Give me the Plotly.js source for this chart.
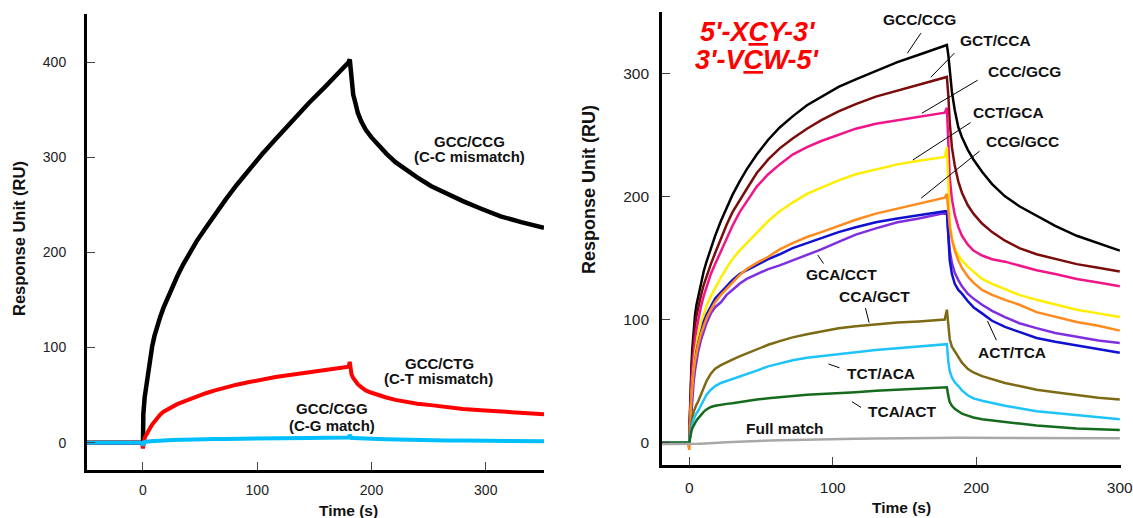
<!DOCTYPE html>
<html>
<head>
<meta charset="utf-8">
<script src="https://cdn.plot.ly/plotly-3.0.1.min.js"></script>
<style>html,body{margin:0;padding:0;background:#fff;}#chart{width:1133px;height:518px;}</style>
</head>
<body>
<div id="chart"></div>
<script>
// ---------- Left panel data (time in s, response in RU) ----------
const timeLeft = [-50, -1, 0, 0.3, 0.6, 1, 1.5, 2, 3, 4, 5, 6.5, 8, 10, 12.5, 15, 18, 22, 26, 30, 35, 40, 47, 55, 63, 72, 82, 92, 104, 116, 130, 145, 160, 170, 178, 180, 181, 181.5, 182.5, 184, 186, 188, 191, 195, 200, 206, 213, 221, 230, 240, 252, 265, 280, 296, 313, 331, 351];
const gccCcgLeft = [0, 0, 0, 30, 40, 44, 48, 52, 61, 70, 79, 91, 101, 112, 123, 132, 142, 154, 165, 175, 187, 198, 212, 226, 240, 255, 271, 286, 303, 319, 338, 357, 375, 387, 397, 400, 403, 395, 378, 366, 357, 347, 338, 329, 321, 313, 304, 295, 287, 279, 270, 262, 254, 246, 238, 232, 226];
const gccCtgLeft = [0, 0, -6, -2, 1, 3, 5, 6.5, 9, 11, 13, 16, 19, 22.5, 26, 29.5, 32.5, 35.5, 38, 40.5, 43, 45.5, 48.5, 52, 55, 58, 61, 63.5, 66.5, 69, 71.5, 74, 76.5, 78, 79.5, 80, 85, 78, 72, 68, 64, 61.5, 58.5, 55, 52.5, 50, 47.5, 45, 43, 41, 39.5, 37.5, 35.5, 34, 32.5, 31, 30];
const gccCggLeft = [0, 0, -3, -1, 0, 0.5, 0.8, 1, 1, 1.2, 1.3, 1.5, 1.7, 2, 2, 2.2, 2.4, 2.6, 2.8, 3, 3, 3.2, 3.4, 3.6, 3.8, 4, 4, 4.2, 4.4, 4.6, 4.8, 5, 5.2, 5.4, 5.5, 5.5, 8, 6, 5, 5, 4.8, 4.6, 4.4, 4.2, 4, 3.8, 3.5, 3.2, 3, 2.8, 2.6, 2.4, 2.2, 2, 1.8, 1.7, 1.5];
const leftNames = ["GCC/CCG", "GCC/CTG", "GCC/CGG"];

// ---------- Right panel data ----------
const timeRight = [-20, -1, 0, 0.3, 0.6, 1, 1.5, 2, 3, 4, 5, 6, 8, 10, 12, 15, 18, 22, 26, 30, 35, 40, 47, 55, 63, 72, 82, 92, 104, 116, 130, 145, 160, 170, 178, 179.5, 180.5, 181.5, 183, 185, 187.5, 190, 194, 198, 204, 211, 220, 230, 242, 255, 270, 285, 300];
const gccCcg = [0, 0, 0, 20, 35, 50, 63, 75, 94, 104, 112, 118, 129, 139, 147, 158, 168, 180, 191, 201, 212, 222, 234, 246, 256, 265, 274, 281, 289, 295, 302, 309, 315, 319, 322, 323, 315, 300, 285, 270, 256, 248, 238, 230, 220, 210, 200, 192, 184, 176, 168, 162, 156];
const gctCca = [0, 0, 0, 16, 30, 44, 56, 67, 84, 95, 103, 109, 119, 128, 135, 145, 154, 166, 177, 187, 197, 206, 219, 230, 239, 247, 255, 262, 269, 275, 281, 286, 291, 294, 297, 297, 282, 260, 240, 225, 212, 203, 193, 186, 178, 171, 164, 158, 153, 149, 145, 142, 139];
const cccGcg = [0, 0, 0, 12, 24, 36, 47, 57, 73, 84, 92, 99, 110, 119, 127, 137, 145, 155, 166, 176, 187, 196, 208, 218, 226, 234, 240, 245, 250, 255, 259, 262, 265, 267, 268, 272, 240, 215, 198, 185, 175, 168, 161, 156, 152, 149, 147, 144, 140, 137, 133, 130, 127];
const cctGca = [0, 0, 0, 8, 18, 28, 38, 47, 62, 72, 80, 87, 97, 105, 111, 119, 126, 134, 142, 149, 156, 162, 171, 180, 188, 195, 202, 207, 213, 218, 222, 226, 229, 231, 232, 240, 205, 180, 166, 158, 152, 148, 143, 139, 133, 129, 125, 120, 116, 112, 108, 105, 102];
const gcaCct = [0, 0, 0, 5, 11, 19, 28, 36, 49, 59, 67, 73, 83, 91, 97, 105, 110, 114, 120, 124, 129, 133, 137, 141, 144, 148, 152, 157, 163, 169, 174, 179, 182, 184.5, 186.5, 187, 170, 156, 146, 138, 132, 127, 121, 117, 112, 107, 102, 97, 93, 89, 86, 83, 81];
const actTca = [0, 0, 0, 6, 14, 24, 34, 43, 56, 66, 74, 80, 90, 98, 104, 111, 117, 122, 127, 132, 137, 140, 144, 149, 153, 158, 162, 166, 171, 175, 179, 182, 185, 187, 188, 188, 165, 148, 137, 129, 124, 121, 115, 110, 105, 99, 94, 90, 85, 82, 79, 76, 73];
const ccgGcc = [0, 0, -6, 0, 12, 24, 35, 44, 57, 66, 73, 79, 88, 95, 101, 108, 114, 120, 125, 130, 136, 141, 146, 151, 157, 162, 167, 171, 176, 181, 186, 190, 194, 197, 199, 202, 188, 175, 165, 156, 148, 142, 135, 130, 124, 120, 116, 112, 106, 102, 98, 95, 91];
const ccaGct = [0, 0, 0, 4, 8, 12, 16, 20, 25, 29, 31, 33, 39, 45, 50, 56, 60, 63, 65.5, 67.5, 70, 72.5, 76, 79.5, 82.5, 85.5, 88, 90.5, 93, 94.5, 96, 97.5, 98.5, 99.5, 100, 108, 95, 84, 78, 74, 70, 65, 60, 57, 54, 51.5, 48.5, 46, 43, 41, 38.5, 36.5, 35];
const tctAca = [0, 0, 0, 3, 6, 9, 12, 15, 19, 22, 24, 25.5, 30, 35, 39, 43, 46, 48.5, 50, 51.5, 53.5, 55.5, 58.5, 62, 64.5, 67, 69, 70.5, 72, 73.5, 75.3, 76.7, 78, 78.7, 79.3, 80, 66, 58, 53, 49, 46, 42.5, 38.5, 36, 34, 32, 30, 28, 25.5, 24, 22.5, 20.5, 19];
const tcaAct = [0, 0, 0, 2, 5, 7, 9.5, 11.5, 14, 16, 18, 19.5, 22.5, 25, 27, 29, 30, 31, 31.5, 32, 33, 34, 35, 36, 37, 38, 39, 39.5, 40, 41, 42.2, 43, 44, 44.5, 45, 45, 38, 33, 30, 27.5, 25.5, 23.5, 22, 20.5, 19, 18, 16.5, 15.5, 14, 12.8, 11.5, 10.8, 10.3];
const fullMatch = [-1, -1, -1.5, -1, -1, -1, -1, -1, -1, -1, -1, -0.9, -0.8, -0.6, -0.5, -0.3, -0.1, 0.1, 0.4, 0.6, 0.9, 1.1, 1.4, 1.7, 2, 2.2, 2.5, 2.7, 2.9, 3.1, 3.3, 3.5, 3.7, 3.9, 4, 4.5, 4, 4, 4, 4, 4, 4, 4, 3.9, 3.9, 3.8, 3.8, 3.7, 3.7, 3.6, 3.6, 3.5, 3.5];

const rightSeries = [
  {name: "GCC/CCG", y: gccCcg, color: "#000000"},
  {name: "GCT/CCA", y: gctCca, color: "#7a0c0c"},
  {name: "CCC/GCG", y: cccGcg, color: "#f0168a"},
  {name: "CCT/GCA", y: cctGca, color: "#ffee00"},
  {name: "GCA/CCT", y: gcaCct, color: "#7f2fe0"},
  {name: "ACT/TCA", y: actTca, color: "#1010d0"},
  {name: "CCG/GCC", y: ccgGcc, color: "#ff8a1e"},
  {name: "CCA/GCT", y: ccaGct, color: "#7d6a14"},
  {name: "TCT/ACA", y: tctAca, color: "#1ec4f8"},
  {name: "TCA/ACT", y: tcaAct, color: "#156b1d"},
  {name: "Full match", y: fullMatch, color: "#a8a8a8"}
];

const FONT = "Liberation Sans, Arial, Helvetica, sans-serif";

const traces = [];
const leftColors = ["#000000", "#ff0000", "#00bfff"];
[gccCcgLeft, gccCtgLeft, gccCggLeft].forEach((ys, i) => {
  traces.push({x: timeLeft, y: ys, type: "scatter", mode: "lines", name: leftNames[i],
    xaxis: "x", yaxis: "y", line: {color: leftColors[i], width: i === 0 ? 4.5 : 4}, hoverinfo: "skip"});
});
rightSeries.forEach(s => {
  traces.push({x: timeRight, y: s.y, type: "scatter", mode: "lines", name: s.name,
    xaxis: "x2", yaxis: "y2", line: {color: s.color, width: 2.5}, hoverinfo: "skip"});
});

function lab(x, y, text, ref, size) {
  return {x: x, y: y, xref: ref[0], yref: ref[1], text: "<b>" + text + "</b>", showarrow: false,
    font: {family: FONT, size: size, color: "#111"}, xanchor: "center", yanchor: "middle"};
}
function leader(x0, y0, x1, y1) {
  return {x: x1, y: y1, ax: x0, ay: y0, xref: "x2", yref: "y2", axref: "x2", ayref: "y2", text: "",
    showarrow: true, arrowhead: 0, arrowwidth: 1, arrowcolor: "#000"};
}

const annotations = [
  lab(286, 316.5, "GCC/CCG", ["x", "y"], 15),
  lab(286, 300.7, "(C-C mismatch)", ["x", "y"], 15),
  lab(259.7, 83.5, "GCC/CTG", ["x", "y"], 15),
  lab(258.8, 67.7, "(C-T mismatch)", ["x", "y"], 15),
  lab(165.5, 36.2, "GCC/CGG", ["x", "y"], 15),
  lab(165.5, 18.6, "(C-G match)", ["x", "y"], 15),

  lab(160.1, 343.3, "GCC/CCG", ["x2", "y2"], 15.5),
  lab(213.3, 327, "GCT/CCA", ["x2", "y2"], 15.5),
  lab(233.3, 301.3, "CCC/GCG", ["x2", "y2"], 15.5),
  lab(222.1, 267.8, "CCT/GCA", ["x2", "y2"], 15.5),
  lab(231.9, 244.5, "CCG/GCC", ["x2", "y2"], 15.5),
  lab(106.2, 136.2, "GCA/CCT", ["x2", "y2"], 15.5),
  lab(129.4, 118.6, "CCA/GCT", ["x2", "y2"], 15.5),
  lab(224.9, 73.1, "ACT/TCA", ["x2", "y2"], 15.5),
  lab(133.3, 56.4, "TCT/ACA", ["x2", "y2"], 15.5),
  lab(148.3, 25.2, "TCA/ACT", ["x2", "y2"], 15.5),
  lab(66.4, 11.7, "Full match", ["x2", "y2"], 15.5),

  leader(162.1, 333.8, 152, 316.3),
  leader(185.8, 317.6, 168.3, 296.8),
  leader(202, 295.1, 162, 267.5),
  leader(197, 260.7, 155.8, 229.6),
  leader(203.3, 237.7, 161.5, 198.5),
  leader(94.2, 144.3, 89.5, 152.4),
  leader(122.5, 110.5, 125.3, 97.5),
  leader(214.5, 82, 207.8, 98.8),
  leader(105.7, 60.4, 97, 63.9),
  leader(120.7, 27.9, 113.3, 33.3),

  // red sequence title
  {x: 758/1133, y: 1 - 32/518, xref: "paper", yref: "paper", showarrow: false,
   text: "<b><i>5'-X<span style=\"text-decoration:underline\">C</span>Y-3'</i></b>",
   font: {family: FONT, size: 27, color: "#ff0000"}, xanchor: "center", yanchor: "middle"},
  {x: 757/1133, y: 1 - 60/518, xref: "paper", yref: "paper", showarrow: false,
   text: "<b><i>3'-V<span style=\"text-decoration:underline\">C</span>W-5'</i></b>",
   font: {family: FONT, size: 27, color: "#ff0000"}, xanchor: "center", yanchor: "middle"},

  // axis titles
  {x: 348/1133, y: 1 - 510/518, xref: "paper", yref: "paper", showarrow: false, text: "<b>Time (s)</b>",
   font: {family: FONT, size: 15.5, color: "#111"}, xanchor: "center", yanchor: "middle"},
  {x: 901/1133, y: 1 - 507/518, xref: "paper", yref: "paper", showarrow: false, text: "<b>Time (s)</b>",
   font: {family: FONT, size: 15.5, color: "#111"}, xanchor: "center", yanchor: "middle"},
  {x: 19/1133, y: 1 - 239/518, xref: "paper", yref: "paper", showarrow: false, text: "<b>Response Unit (RU)</b>",
   textangle: -90, font: {family: FONT, size: 16.5, color: "#111"}, xanchor: "center", yanchor: "middle"},
  {x: 589/1133, y: 1 - 190/518, xref: "paper", yref: "paper", showarrow: false, text: "<b>Response Unit (RU)</b>",
   textangle: -90, font: {family: FONT, size: 18, color: "#111"}, xanchor: "center", yanchor: "middle"}
];

function axisBase(extra) {
  return Object.assign({
    showgrid: false, zeroline: false, showline: true, linewidth: 3, linecolor: "#000",
    ticks: "inside", ticklen: 8, tickwidth: 1, tickcolor: "#444", fixedrange: true,
    ticklabeloverflow: "allow"
  }, extra);
}

const layout = {
  width: 1133, height: 518,
  margin: {l: 0, r: 0, t: 0, b: 0},
  paper_bgcolor: "#fff", plot_bgcolor: "#fff",
  showlegend: false,
  font: {family: FONT, color: "#222"},
  xaxis: axisBase({domain: [87/1133, 544/1133], range: [-49.0, 351.0], tickvals: [0, 100, 200, 300],
    anchor: "y", tickfont: {size: 14, color: "#222"}, ticklabelstandoff: 6}),
  yaxis: axisBase({domain: [48.5/518, 504/518], range: [-28.2, 450.8], tickvals: [0, 100, 200, 300, 400],
    anchor: "x", tickfont: {size: 14, color: "#222"}, ticklabelstandoff: 15}),
  xaxis2: axisBase({domain: [662.2/1133, 1120.5/1133], range: [-18.9, 300.5], tickvals: [0, 100, 200, 300],
    anchor: "y2", tickfont: {size: 15.5, color: "#222"}, ticklabelstandoff: 6}),
  yaxis2: axisBase({domain: [52.8/518, 506.3/518], range: [-18.3, 350.0], tickvals: [0, 100, 200, 300],
    anchor: "x2", tickfont: {size: 15.5, color: "#222"}, ticklabelstandoff: 7}),
  annotations: annotations
};

Plotly.newPlot("chart", traces, layout, {staticPlot: true, displayModeBar: false});
</script>
</body>
</html>
